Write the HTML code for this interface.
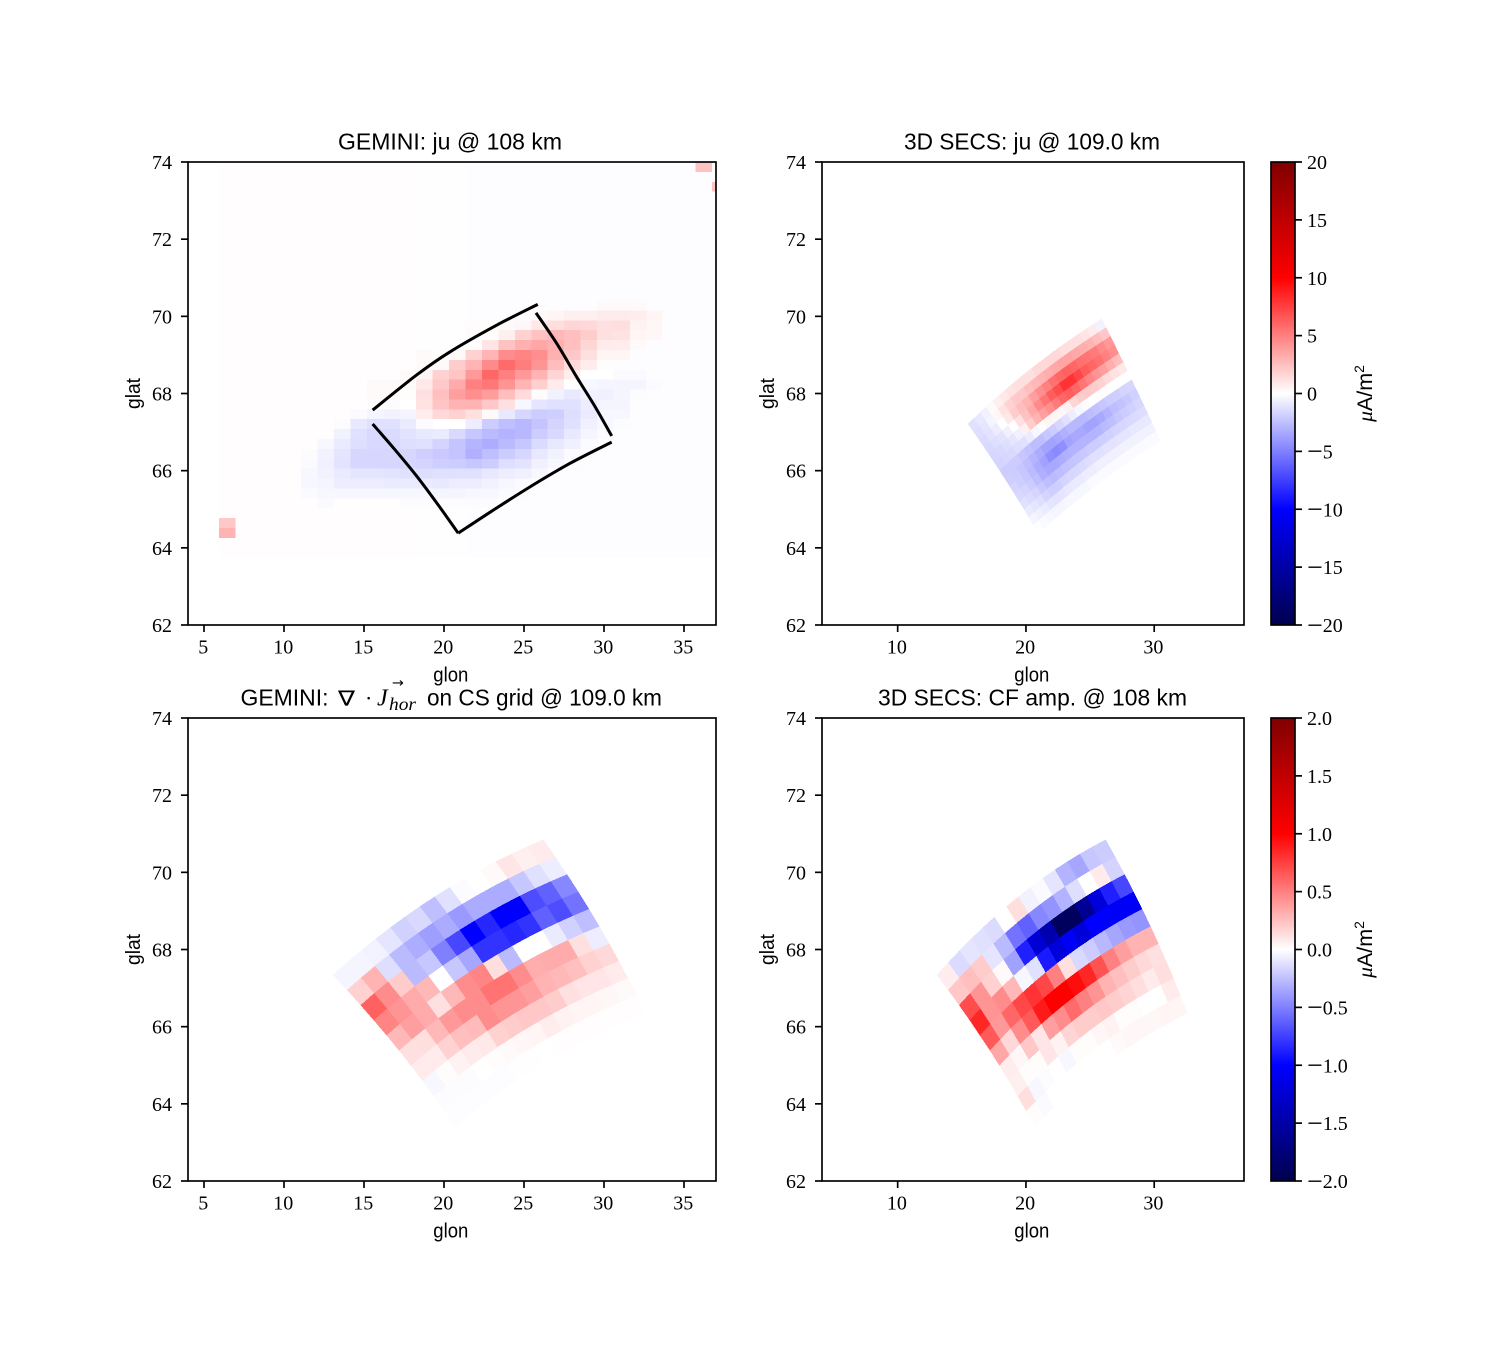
<!DOCTYPE html>
<html lang="en">
<head>
<meta charset="utf-8">
<title>GEMINI and 3D SECS current comparison</title>
<style>
html,body{margin:0;padding:0;background:#fff;}
svg{display:block;}
text{fill:#000;}
.tick{font-family:"Liberation Serif",serif;font-size:20px;}
.lab{font-family:"Liberation Sans",sans-serif;font-size:20px;}
.ttl{font-family:"Liberation Sans",sans-serif;font-size:23px;}
.mth{font-family:"Liberation Serif",serif;font-style:italic;}
</style>
</head>
<body>
<svg id="fig" xmlns="http://www.w3.org/2000/svg" width="1500" height="1350" viewBox="0 0 1500 1350">
<rect width="1500" height="1350" fill="#fff"/>
<defs>
<clipPath id="clip-ju"><rect x="188" y="162" width="528" height="463"/></clipPath>
</defs>
</svg>
<script>
// ---- tick labels ----
const lonTicksFull = [5, 10, 15, 20, 25, 30, 35];
const lonTicksSecs = [10, 20, 30];
const latTicks = [62, 64, 66, 68, 70, 72, 74];
const cbarTicksJu = [-20, -15, -10, -5, 0, 5, 10, 15, 20];
const cbarLabelsJu = ['−20', '−15', '−10', '−5', '0', '5', '10', '15', '20'];
const cbarTicksCf = [-2, -1.5, -1, -0.5, 0, 0.5, 1, 1.5, 2];
const cbarLabelsCf = ['−2.0', '−1.5', '−1.0', '−0.5', '0.0', '0.5', '1.0', '1.5', '2.0'];

// ---- panel 1: GEMINI ju regular grid (uA/m2) ----
const juLon0 = 5.94, juDLon = 1.027, juLat0 = 74, juDLat = 0.2564;
const juFirstRow = 14, juFirstCol = 5;
const juBackground = [.06,.06,.06,.06,.06,.06,.06,.06,.06,.06,.06,.06,.05,.05,-.05,-.06,-.06,-.06,-.06,-.06,-.06,-.06,-.06,-.06,-.06,-.06,-.06,-.06,-.06,-.06,-.06];
const juBackgroundRows = 40;
const juValues = [
[0,0,0,0,0,0,0,0,0,0,0,0,0,0,0,0,0,0,.2,.2,.2,0],
[0,0,0,0,0,0,0,0,0,0,0,0,0,0,.2,.4,.6,.6,.8,.8,.7,.4],
[0,0,0,0,0,0,0,0,0,.05,.1,.1,.2,.3,.9,1.3,1.6,1.5,1.2,1.3,.5,.3],
[0,0,0,0,0,0,0,0,0,0,-.1,.1,.6,1.8,2.4,2.8,2.5,2,1.2,1.1,.4,.3],
[0,0,0,0,0,0,0,0,0,0,.1,1,2.4,3.1,3.5,3.1,2.5,1.6,.8,.7,.2,0],
[0,0,0,0,0,0,0,.2,.05,.2,1.8,2.9,4.5,4.8,4.4,3.1,2.2,1.2,.4,.4,0,0],
[0,0,0,0,0,0,0,.2,.2,2,2.9,4.6,5.8,5.1,4.2,2.6,1.4,.7,.1,0,0,0],
[0,0,0,0,0,0,.2,.4,1.8,2.3,4,6,5,4,3,1.7,.7,.01,.01,-.2,-.2,0],
[0,0,0,0,.2,.2,.2,.9,2.1,3.3,5,5.3,4.2,2.9,1.9,.8,.01,-.3,-.4,-.4,-.4,-.2],
[0,0,0,0,.2,.2,.1,1.2,2.5,3.8,4.4,3.9,2.5,1.4,.1,-.5,-.9,-.5,-.6,-.4,-.1,0],
[0,0,0,0,.1,-.1,.01,1.1,2.3,3,3,2.2,1.2,-.3,-1,-1.2,-1.2,-.7,-.4,-.4,0,0],
[0,0,0,-.2,-.4,-.5,-.4,.7,1.5,1.8,1.2,.2,-.9,-1.6,-2,-1.9,-1.3,-.8,-.3,-.3,0,0],
[0,0,-.1,-.9,-1.2,-1.2,-.8,-.2,.01,.01,-.7,-2,-2.5,-2.8,-2.3,-1.7,-1.2,-.6,-.3,-.1,0,0],
[0,0,-.5,-1.2,-1.5,-1.4,-1.1,-.9,-.8,-1.5,-2.2,-2.7,-3,-2.8,-2,-1.5,-.9,-.4,-.2,0,0,0],
[0,-.3,-.8,-1.3,-1.5,-1.5,-1.3,-1.2,-1.7,-2.3,-2.9,-3.2,-2.7,-2.2,-1.4,-.9,-.6,-.2,0,0,0,0],
[-.1,-.5,-1,-1.6,-1.6,-1.6,-1.6,-1.9,-2.1,-2.3,-3.1,-2.5,-2,-1.6,-.9,-.5,-.2,0,0,0,0,0],
[-.2,-.6,-1.1,-1.6,-1.6,-1.6,-1.6,-1.7,-1.9,-2,-2.2,-2,-1.3,-1.1,-.6,-.3,-.1,0,0,0,0,0],
[-.3,-.5,-.8,-1,-1,-1.1,-1.2,-1.3,-1.2,-1.2,-1.2,-.9,-.7,-.6,-.3,0,0,0,0,0,0,0],
[-.3,-.4,-.7,-.7,-.7,-.8,-.8,-.8,-.9,-.7,-.7,-.5,-.3,-.2,-.1,0,0,0,0,0,0,0],
[-.2,-.3,-.3,-.3,-.3,-.3,-.3,-.3,-.4,-.4,-.3,-.3,-.2,-.1,0,0,0,0,0,0,0,0],
[0,-.2,0,0,0,0,-.1,-.1,-.1,-.1,-.1,-.1,-.05,0,0,0,0,0,0,0,0,0]
];
const juExtraRow = [36, 37, 0, 2];
const juExtraCol = [0, 0, 29, 30];
const juExtraValue = [2.2, 3.0, 2.4, 2.4];

// ---- panel 1: analysis-domain outline (lon, lat) ----
const boxTopLon = [15.54, 18.29, 20.38, 23.29, 25.86];
const boxTopLat = [67.57, 68.48, 69.08, 69.77, 70.31];
const boxRightLon = [25.75, 27.04, 28.29, 29.44, 30.48];
const boxRightLat = [70.09, 69.30, 68.43, 67.66, 66.90];
const boxBottomLon = [30.48, 27.875, 25.375, 22.98, 20.89];
const boxBottomLat = [66.74, 66.19, 65.58, 64.95, 64.38];
const boxLeftLon = [20.89, 19.64, 18.29, 16.9, 15.54];
const boxLeftLat = [64.38, 65.11, 65.86, 66.56, 67.21];

// ---- curved mesh nodes, [top, middle, bottom] x [left, centre, right] ----
const secsMeshLon = [[15.5, 20.44, 25.9], [18.36, 23.07, 28.24], [20.96, 25.5, 30.45]];
const secsMeshLat = [[67.21, 68.65, 69.93], [65.8, 67.14, 68.35], [64.38, 65.63, 66.79]];
const csMeshLon = [[13.08, 19.44, 26.21], [17.21, 23.15, 29.71], [20.69, 26.21, 32.56]];
const csMeshLat = [[67.34, 69.37, 70.84], [65.38, 67.21, 68.59], [63.41, 65.05, 66.35]];

// ---- panel 2: 3D SECS ju (uA/m2) ----
const secsJu = [
[-1.2,-.9,-.5,.2,.6,.9,1.1,1.2,1.3,1.2,1.5,1.5,1.5,1.5,1.3,1.2,1.2,1,.8,-.5],
[-1.3,-1,-.4,.3,1.1,1.8,2.1,2.2,2.5,2.8,3,3.2,3.4,3.6,3.6,3.4,3.2,3,2.6,2.2],
[-1.4,-1.1,-.7,0,.9,2,2.6,3,3.8,4.4,5,5.6,6,6.2,6,5.6,5.4,5.2,4.6,4],
[-1.5,-1.3,-1.1,-.6,0,1.2,2.4,3.4,4.6,5.4,6.4,7,8,8,7.2,6.4,6,5.6,5,4.4],
[-1.6,-1.5,-1.3,-1,-.6,.6,2,3,3.8,4.4,5.2,6,6.4,6,5.4,4.8,4.2,3.8,3.2,2.6],
[-1.7,-1.6,-1.5,-1.3,-1.2,-.8,-.3,.1,.4,.4,.3,.6,1.6,2,2.2,2,1.8,1.4,1.1,.9],
[-2,-2,-2,-2.2,-2.4,-2.6,-2.5,-2.2,-2,-1.6,-1.2,-.7,-.3,-.1,0,.1,.1,0,0,0],
[-1.9,-2,-2.2,-2.5,-2.9,-3.3,-3.6,-3.6,-3.4,-3.1,-2.8,-2.8,-2.8,-2.6,-2.4,-2.2,-2,-1.9,-1.7,-1.6],
[-1.7,-1.9,-2.2,-2.7,-3.2,-3.7,-4.4,-4.6,-4.4,-3.6,-3.4,-3.4,-3.6,-3.6,-3.4,-3,-2.6,-2.4,-2.1,-1.8],
[-1.5,-1.7,-2,-2.5,-3.1,-3.4,-3.4,-3.3,-3.1,-3,-3,-3,-3,-2.9,-2.7,-2.5,-2.2,-2,-1.8,-1.6],
[-1.2,-1.4,-1.7,-2.1,-2.5,-2.7,-2.6,-2.4,-2.3,-2.2,-2.1,-2,-2,-1.9,-1.8,-1.7,-1.6,-1.5,-1.4,-1.3],
[-.8,-1,-1.3,-1.7,-1.9,-1.9,-1.7,-1.6,-1.5,-1.4,-1.3,-1.2,-1.2,-1.1,-1.1,-1,-1,-.9,-.9,-.9],
[-.4,-.6,-.8,-1,-1.1,-1,-.9,-.8,-.8,-.7,-.7,-.6,-.6,-.6,-.6,-.5,-.5,-.5,-.5,-.5],
[.05,-.2,-.3,-.4,-.4,-.3,-.3,-.3,-.3,-.2,-.2,-.2,-.2,-.2,-.2,-.2,-.2,-.2,-.2,-.2]
];

// ---- panel 3: GEMINI divergence on CS grid ----
const csDiv = [
[-.04,-.04,-.05,-.1,-.18,-.15,-.25,-.12,-.01,0,.02,.1,.06,.08],
[.18,.3,-.13,-.27,-.32,-.38,-.33,-.4,-.33,-.33,-.33,-.22,-.12,-.07],
[.62,.45,.2,-.27,-.22,-.5,-.72,-1,-.85,-1,-1,-.7,-.62,-.47],
[.48,.42,.33,.28,0,-.22,-.35,-.8,-.8,-.85,-.8,-.62,-.7,-.55],
[.28,.38,.33,.12,.28,.45,.48,.13,-.27,0,0,-.08,-.18,-.25],
[.12,.13,.28,.4,.45,.45,.55,.55,.45,.32,.33,.33,.12,-.07],
[.08,.08,.18,.25,.27,.45,.42,.42,.38,.3,.28,.25,.18,.15],
[-.03,.01,.05,.08,.09,.18,.2,.22,.22,.2,.12,.1,.1,.08],
[-.01,-.01,-.01,0,.01,.02,.03,.04,.07,.05,.04,.04,.03,.02],
[-.008,-.008,-.008,-.008,-.006,-.005,-.005,0,.006,.006,.006,.006,.006,.006]
];

// ---- panel 4: 3D SECS CF amplitude ----
const secsCf = [
[.07,-.14,-.1,-.12,-.14,0,.13,-.05,-.02,-.1,-.3,-.35,-.22,-.2],
[.22,.25,.2,-.1,-.27,-.55,-.62,-.47,-.42,-.3,-.13,0,.08,-.17],
[.7,.42,.18,.02,-.37,-.88,-1.25,-1.45,-1.9,-1.9,-1.6,-1.2,-.88,-.72],
[.85,.42,.45,.28,-.03,-.12,-.9,-1.2,-1.05,-1.2,-1,-1,-1.05,-1.05],
[.65,.4,.6,.72,.8,.72,.5,.12,-.15,-.2,-.28,-.35,-.4,-.42],
[.35,.15,.45,.65,.9,1,1,.95,.85,.68,.5,.38,.3,.3],
[.07,.03,.22,.1,.38,.45,.58,.5,.42,.3,.25,.2,.15,.12],
[.06,.01,.01,.1,.05,.17,.2,.2,.22,.2,.17,.13,.08,.13],
[.13,-.03,-.01,0,-.03,.01,.01,.03,.05,.01,.01,0,0,.08],
[.01,-.02,0,0,0,0,0,0,.02,.03,.03,.03,.04,.04]
];

const NS = 'http://www.w3.org/2000/svg';
const svg = document.getElementById('fig');

function mk(tag, attrs, parent) {
  const el = document.createElementNS(NS, tag);
  for (const k in attrs) el.setAttribute(k, attrs[k]);
  (parent || svg).appendChild(el);
  return el;
}

// seismic colormap
function seismic(t) {
  const stops = [[0, 0, 0, 76.5], [.25, 0, 0, 255], [.5, 255, 255, 255], [.75, 255, 0, 0], [1, 127.5, 0, 0]];
  t = Math.max(0, Math.min(1, t));
  for (let i = 1; i < stops.length; i++) {
    if (t <= stops[i][0]) {
      const a = stops[i - 1], b = stops[i], f = (t - a[0]) / (b[0] - a[0]);
      return 'rgb(' + [1, 2, 3].map(c => Math.round(a[c] + (b[c] - a[c]) * f)).join(',') + ')';
    }
  }
  return 'rgb(127,0,0)';
}

function makeAxes(left, right, top, bottom, lonMin, lonMax) {
  return {
    left, right, top, bottom,
    x: lon => left + (lon - lonMin) * (right - left) / (lonMax - lonMin),
    y: lat => bottom - (lat - 62) * (bottom - top) / 12
  };
}

const ax1 = makeAxes(188, 716, 162, 625, 4, 37);
const ax2 = makeAxes(822, 1244, 162, 625, 4.1, 37);
const ax3 = makeAxes(188, 716, 718, 1181, 4, 37);
const ax4 = makeAxes(822, 1244, 718, 1181, 4.1, 37);

// biquadratic mesh node
function meshPoint(grid, u, v) {
  const q = t => [2 * (t - .5) * (t - 1), -4 * t * (t - 1), 2 * t * (t - .5)];
  const bu = q(u), bv = q(v);
  let s = 0;
  for (let i = 0; i < 3; i++) for (let j = 0; j < 3; j++) s += bv[i] * bu[j] * grid[i][j];
  return s;
}

function drawMesh(ax, meshLon, meshLat, values, vmax, name) {
  const g = mk('g', { 'shape-rendering': 'crispEdges' });
  
  
  const rows = values.length, cols = values[0].length;
  for (let i = 0; i < rows; i++) {
    for (let j = 0; j < cols; j++) {
      const color = seismic((values[i][j] + vmax) / (2 * vmax));
      const corners = [[j, i], [j + 1, i], [j + 1, i + 1], [j, i + 1]].map(c => {
        const u = c[0] / cols, v = c[1] / rows;
        return ax.x(meshPoint(meshLon, u, v)).toFixed(2) + ',' + ax.y(meshPoint(meshLat, u, v)).toFixed(2);
      });
      const cell = mk('polygon', { points: corners.join(' '), fill: color, stroke: color, 'stroke-width': .6 }, g);
      
      
    }
  }
}

function juCell(g, col, row, value) {
  const color = seismic((value + 20) / 40);
  const x0 = ax1.x(juLon0 + col * juDLon), x1 = ax1.x(juLon0 + (col + 1) * juDLon);
  const y0 = ax1.y(juLat0 - row * juDLat), y1 = ax1.y(juLat0 - (row + 1) * juDLat);
  const cell = mk('rect', { x: x0.toFixed(2), y: y0.toFixed(2), width: (x1 - x0).toFixed(2), height: (y1 - y0).toFixed(2), fill: color }, g);
  
  
}

function drawJu() {
  const g = mk('g', { 'clip-path': 'url(#clip-ju)', 'shape-rendering': 'crispEdges' });
  
  
  juBackground.forEach((v, c) => {
    for (let r = 0; r < juBackgroundRows; r++) juCell(g, c, r, v);
  });
  juValues.forEach((row, r) => row.forEach((v, c) => {
    if (v !== 0) juCell(g, c + juFirstCol, r + juFirstRow, v);
  }));
  juExtraValue.forEach((v, k) => juCell(g, juExtraCol[k], juExtraRow[k], v));
}

// smooth curve through the outline nodes (Catmull-Rom)
function drawBoxSide(lons, lats, name) {
  const p = lons.map((lon, k) => [ax1.x(lon), ax1.y(lats[k])]);
  let d = 'M' + p[0][0].toFixed(2) + ' ' + p[0][1].toFixed(2);
  for (let i = 0; i < p.length - 1; i++) {
    const a = p[Math.max(i - 1, 0)], b = p[i], c = p[i + 1], e = p[Math.min(i + 2, p.length - 1)];
    const c1 = [b[0] + (c[0] - a[0]) / 6, b[1] + (c[1] - a[1]) / 6];
    const c2 = [c[0] - (e[0] - b[0]) / 6, c[1] - (e[1] - b[1]) / 6];
    d += ' C' + c1[0].toFixed(2) + ' ' + c1[1].toFixed(2) + ' ' + c2[0].toFixed(2) + ' ' + c2[1].toFixed(2) + ' ' + c[0].toFixed(2) + ' ' + c[1].toFixed(2);
  }
  const line = mk('path', { d: d, fill: 'none', stroke: '#000', 'stroke-width': 3 });
  
  
}

function drawAxes(ax, lonTicks, panel) {
  const frame = mk('rect', { x: ax.left, y: ax.top, width: ax.right - ax.left, height: ax.bottom - ax.top, fill: 'none', stroke: '#000', 'stroke-width': 1.67 });
  
  
  lonTicks.forEach(t => {
    const x = ax.x(t);
    const m = mk('line', { x1: x, x2: x, y1: ax.bottom, y2: ax.bottom + 7, stroke: '#000', 'stroke-width': 1.67 });
    
    
    const l = mk('text', { x: x - 0.8, y: ax.bottom + 28.5, 'text-anchor': 'middle', class: 'tick' });
    
    
    l.textContent = t;
  });
  latTicks.forEach(t => {
    const y = ax.y(t);
    const m = mk('line', { x1: ax.left - 7, x2: ax.left, y1: y, y2: y, stroke: '#000', 'stroke-width': 1.67 });
    
    
    const l = mk('text', { x: ax.left - 16, y: y + 7, 'text-anchor': 'end', class: 'tick' });
    
    
    l.textContent = t;
  });
  const cx = (ax.left + ax.right) / 2 - 1.2;
  const xl = mk('text', { x: cx, y: ax.bottom + 56.5, 'text-anchor': 'middle', class: 'lab', textLength: 35, lengthAdjust: 'spacingAndGlyphs' });
  
  
  xl.textContent = 'glon';
  const cy = (ax.top + ax.bottom) / 2;
  const yl = mk('text', { x: 0, y: 0, transform: 'translate(' + (ax.left - 48) + ' ' + cy + ') rotate(-90)', 'text-anchor': 'middle', class: 'lab', textLength: 31, lengthAdjust: 'spacingAndGlyphs' });
  
  
  yl.textContent = 'glat';
}

function plainTitle(txt, x0, x1, y, name) {
  const t = mk('text', { x: x0, y: y, class: 'ttl', textLength: x1 - x0, lengthAdjust: 'spacingAndGlyphs' });
  
  
  t.textContent = txt;
}

function drawColorbar(top, bottom, ticks, labels, vmax, name) {
  const gid = 'grad-' + name;
  const defs = mk('defs', {});
  const grad = mk('linearGradient', { id: gid, x1: 0, y1: 1, x2: 0, y2: 0 }, defs);
  [[0, .0], [25, .25], [50, .5], [75, .75], [100, 1]].forEach(s => {
    mk('stop', { offset: s[0] + '%', 'stop-color': seismic(s[1]) }, grad);
  });
  const bar = mk('rect', { x: 1271, y: top, width: 24, height: bottom - top, fill: 'url(#' + gid + ')', stroke: '#000', 'stroke-width': 1.67 });
  
  
  ticks.forEach((t, k) => {
    const y = bottom - (t + vmax) * (bottom - top) / (2 * vmax);
    const m = mk('line', { x1: 1295, x2: 1302, y1: y, y2: y, stroke: '#000', 'stroke-width': 1.67 });
    
    
    const l = mk('text', { x: 1307, y: y + 7, class: 'tick' });
    
    
    const s = labels[k];
    if (s[0] === '−') {
      const a = mk('tspan', { 'font-size': 28, dy: 2.3 }, l);
      a.textContent = '−';
      const b = mk('tspan', { dy: -2.3 }, l);
      b.textContent = s.slice(1);
    } else {
      l.textContent = s;
    }
  });
  const cy = (top + bottom) / 2;
  const lab = mk('text', { x: 0, y: 0, transform: 'translate(1372 ' + cy + ') rotate(-90)', 'text-anchor': 'middle', class: 'lab', style: 'font-size:21.5px' });
  
  
  const mu = mk('tspan', { class: 'mth' }, lab);
  mu.textContent = 'μ';
  const au = mk('tspan', {}, lab);
  au.textContent = 'A/m';
  const sq = mk('tspan', { dy: -8, 'font-size': 14 }, lab);
  sq.textContent = '2';
}

drawJu();
drawBoxSide(boxTopLon, boxTopLat, 'domain-outline-top');
drawBoxSide(boxRightLon, boxRightLat, 'domain-outline-right');
drawBoxSide(boxBottomLon, boxBottomLat, 'domain-outline-bottom');
drawBoxSide(boxLeftLon, boxLeftLat, 'domain-outline-left');
drawMesh(ax2, secsMeshLon, secsMeshLat, secsJu, 20, 'secs-ju-heatmap');
drawMesh(ax3, csMeshLon, csMeshLat, csDiv, 2, 'gemini-divergence-heatmap');
drawMesh(ax4, csMeshLon, csMeshLat, secsCf, 2, 'secs-cf-heatmap');

drawAxes(ax1, lonTicksFull, 'gemini-ju');
drawAxes(ax2, lonTicksSecs, 'secs-ju');
drawAxes(ax3, lonTicksFull, 'gemini-divergence');
drawAxes(ax4, lonTicksSecs, 'secs-cf');

plainTitle('GEMINI: ju @ 108 km', 338, 562, 149.5, 'gemini-ju-title');
plainTitle('3D SECS: ju @ 109.0 km', 904, 1160, 149.5, 'secs-ju-title');
plainTitle('3D SECS: CF amp. @ 108 km', 878, 1187, 705.5, 'secs-cf-title');

// composite math title of panel 3
const t3 = mk('g', {});


const t3a = mk('text', { x: 240.5, y: 705.5, class: 'ttl', textLength: 88, lengthAdjust: 'spacingAndGlyphs' }, t3);
t3a.textContent = 'GEMINI:';
const t3b = mk('text', { x: 338, y: 705.5, 'font-family': '"DejaVu Sans",sans-serif', 'font-size': 21, textLength: 17, lengthAdjust: 'spacingAndGlyphs' }, t3);
t3b.textContent = '∇';
const t3c = mk('text', { x: 365, y: 705.5, 'font-family': '"Liberation Serif",serif', 'font-size': 22 }, t3);
t3c.textContent = '·';
const t3d = mk('text', { x: 377, y: 705.5, class: 'mth', 'font-size': 24 }, t3);
t3d.textContent = 'J';
const t3e = mk('text', { x: 389, y: 710, class: 'mth', 'font-size': 18, textLength: 27, lengthAdjust: 'spacingAndGlyphs' }, t3);
t3e.textContent = 'hor';
const t3f = mk('text', { x: 392, y: 687, 'font-family': '"DejaVu Sans",sans-serif', 'font-size': 13, textLength: 12, lengthAdjust: 'spacingAndGlyphs' }, t3);
t3f.textContent = '→';
const t3g = mk('text', { x: 427, y: 705.5, class: 'ttl', textLength: 235, lengthAdjust: 'spacingAndGlyphs' }, t3);
t3g.textContent = 'on CS grid @ 109.0 km';

drawColorbar(162, 625, cbarTicksJu, cbarLabelsJu, 20, 'ju');
drawColorbar(718, 1181, cbarTicksCf, cbarLabelsCf, 2, 'cf');
</script>
</body>
</html>
